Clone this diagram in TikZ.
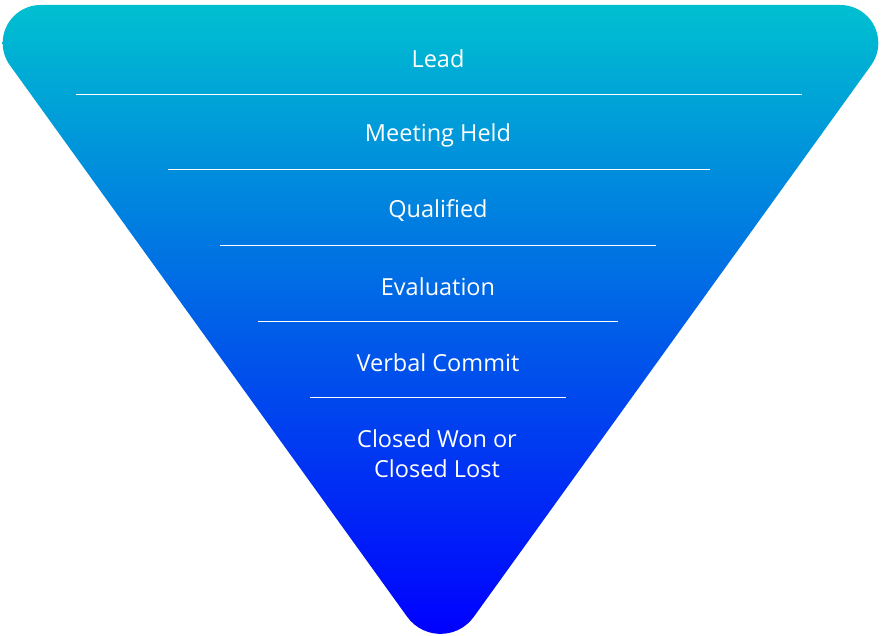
\documentclass[tikz,border=0pt]{standalone}
\usepackage{fontspec}
\setmainfont{Open Sans}
\definecolor{funneltop}{RGB}{0,192,208}
\definecolor{funnelbot}{RGB}{0,0,255}
\tikzset{
  stage/.style={text=white, font=\fontsize{23.5}{30}\selectfont, align=center, inner sep=0pt},
  sep/.style={draw=white, line width=1pt}
}
\begin{document}
\begin{tikzpicture}[x=1pt,y=1pt]
\useasboundingbox (0,0) rectangle (881,636);
% funnel
\shade[top color=funneltop, bottom color=funnelbot]
  (40.7,631) arc[start angle=90, end angle=215.77, radius=38pt]
  -- ([shift={(440.5,43.1)}]215.77:41pt)
  arc[start angle=215.77, end angle=324.23, radius=41pt]
  -- ([shift={(840.3,593)}]324.23:38pt)
  arc[start angle=324.23, end angle=450, radius=38pt]
  -- cycle;
% separators
\coordinate (l1a) at (76,541); \coordinate (l1b) at (802,541);
\coordinate (l2a) at (168,466); \coordinate (l2b) at (710,466);
\coordinate (l3a) at (220,390); \coordinate (l3b) at (656,390);
\coordinate (l4a) at (258,314); \coordinate (l4b) at (618,314);
\coordinate (l5a) at (310,238); \coordinate (l5b) at (566,238);
\draw[sep] (l1a) -- (l1b);
\draw[sep] (l2a) -- (l2b);
\draw[sep] (l3a) -- (l3b);
\draw[sep] (l4a) -- (l4b);
\draw[sep] (l5a) -- (l5b);
% labels
\node[stage] (lead) at (438,577) {Lead};
\node[stage] (meet) at (438,501) {Meeting Held};
\node[stage] (qual) at (438,425) {Qualified};
\node[stage] (eval) at (438,349) {Evaluation};
\node[stage] (verb) at (438,273) {Verbal Commit};
\node[stage] (closed) at (437,182) {Closed Won or\\ Closed Lost};
\end{tikzpicture}
\end{document}
